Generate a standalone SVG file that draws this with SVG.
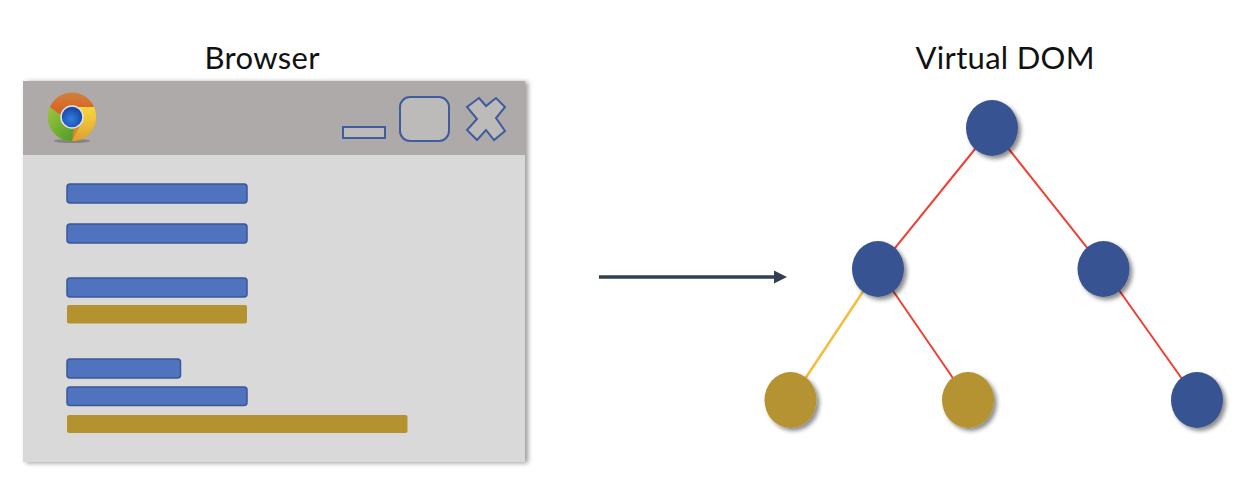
<svg xmlns="http://www.w3.org/2000/svg" width="1242" height="484" viewBox="0 0 1242 484">
<style>
.title{font-family:"Lato","Liberation Sans",sans-serif;font-size:31px;fill:#111;text-anchor:middle}
.bar{fill:#4f73bf;stroke:#3a5897;stroke-width:1.5}
.gold{fill:#b59230}
.ctl{fill:#bdbbba;stroke:#3f5c9c;stroke-width:2}
.edge{fill:none;stroke-width:2}
.flow{fill:none;stroke:#333f50;stroke-width:3.5}
.red{stroke:#ee3f33}
.yellow{stroke:#f4bd3e;stroke-width:2.5}
.dot-blue{fill:#385391;filter:url(#sh)}
.dot-gold{fill:#b59230;filter:url(#sh)}
</style>
<defs>
<filter id="sh" x="-30%" y="-30%" width="170%" height="170%"><feDropShadow dx="3" dy="3" stdDeviation="2" flood-color="#000" flood-opacity="0.45"/></filter>
<filter id="shw" x="-3%" y="-3%" width="106%" height="106%"><feDropShadow dx="3" dy="1" stdDeviation="2.5" flood-color="#000" flood-opacity="0.4"/></filter>
<marker id="arr" markerUnits="userSpaceOnUse" markerWidth="14" markerHeight="14" refX="2" refY="7" orient="auto"><path d="M0 0.5L13 7L0 13.500Z" fill="#333f50"/></marker>
<linearGradient id="cr" x1="0" y1="0" x2="0" y2="1"><stop offset="0" stop-color="#d0813a"/><stop offset="1" stop-color="#dc5a1f"/></linearGradient>
<linearGradient id="cy" x1="0" y1="0" x2="0" y2="1"><stop offset="0" stop-color="#f7d83f"/><stop offset="1" stop-color="#e0a030"/></linearGradient>
<linearGradient id="cg" x1="0" y1="0" x2="1" y2="1"><stop offset="0" stop-color="#9cc63c"/><stop offset="1" stop-color="#4f9a2c"/></linearGradient>
<radialGradient id="cb" cx="0.45" cy="0.6" r="0.6"><stop offset="0" stop-color="#2f7fe0"/><stop offset="1" stop-color="#173fa0"/></radialGradient>
</defs>
<rect width="1242" height="484" fill="#fff"/>
<text class="title" x="262" y="69" textLength="115" id="title-browser">Browser</text>
<text class="title" x="1005" y="69" textLength="179" id="title-vdom">Virtual DOM</text>
<g id="browser">
<rect x="23" y="81" width="502" height="381" fill="#d9d9d9" filter="url(#shw)"/>
<rect x="23" y="81" width="502" height="74" fill="#adaaa9"/>
</g>
<g id="chrome-icon">
<ellipse cx="72" cy="141" rx="18" ry="2" fill="#6b6a68" opacity="0.6"/>
<circle cx="72" cy="117" r="24" fill="#d9862c"/>
<path d="M50 107A24 24 0 0 1 94 107L72 107A11 11 0 0 0 61.500 116Z" fill="url(#cr)"/>
<path d="M94 107A24 24 0 0 1 72 141L82 122A11 11 0 0 0 72 107Z" fill="url(#cy)"/>
<path d="M50 107A24 24 0 0 0 72 141L74 128A11 11 0 0 1 61.500 116Z" fill="url(#cg)"/>
<circle cx="72" cy="117" r="11" fill="url(#cb)" stroke="#dfe3ea" stroke-width="1.500"/>
</g>
<g id="btn-minimize"><rect class="ctl" x="343" y="127" width="42" height="11"/></g>
<g id="btn-maximize"><rect class="ctl" x="400" y="97" width="49" height="44" rx="10"/></g>
<g id="btn-close"><path class="ctl" d="M479 98L486 106L496 98L505 107L496 118L505 131L494 140L486 130L477 140L467 130L477 119L467 107Z"/></g>
<g id="bars">
<rect class="bar" x="67" y="184" width="180" height="19" rx="3"/>
<rect class="bar" x="67" y="224" width="180" height="19" rx="3"/>
<rect class="bar" x="67" y="278" width="180" height="19" rx="3"/>
<rect class="gold" x="67" y="305" width="180" height="18.500" rx="2"/>
<rect class="bar" x="67" y="359" width="113.500" height="19" rx="3"/>
<rect class="bar" x="67" y="387" width="180" height="18.500" rx="3"/>
<rect class="gold" x="67" y="415" width="340.500" height="18" rx="2"/>
</g>
<g id="connectors">
<path class="flow" d="M599 277H776" marker-end="url(#arr)"/>
<path class="edge red" d="M992 128L878 269"/>
<path class="edge red" d="M992 128L1104 269"/>
<path class="edge yellow" d="M878 269L791 400"/>
<path class="edge red" d="M878 269L968 400"/>
<path class="edge red" d="M1104 269L1197 400"/>
</g>
<g id="node-root"><ellipse class="dot-blue" cx="992" cy="128" rx="26" ry="28"/></g>
<g id="node-left"><ellipse class="dot-blue" cx="878" cy="269" rx="26" ry="28"/></g>
<g id="node-right"><ellipse class="dot-blue" cx="1103.500" cy="269" rx="26" ry="28"/></g>
<g id="node-ll"><ellipse class="dot-gold" cx="790.500" cy="400" rx="26" ry="28"/></g>
<g id="node-lr"><ellipse class="dot-gold" cx="968" cy="400" rx="26" ry="28"/></g>
<g id="node-rr"><ellipse class="dot-blue" cx="1197" cy="400" rx="26" ry="28"/></g>
</svg>
